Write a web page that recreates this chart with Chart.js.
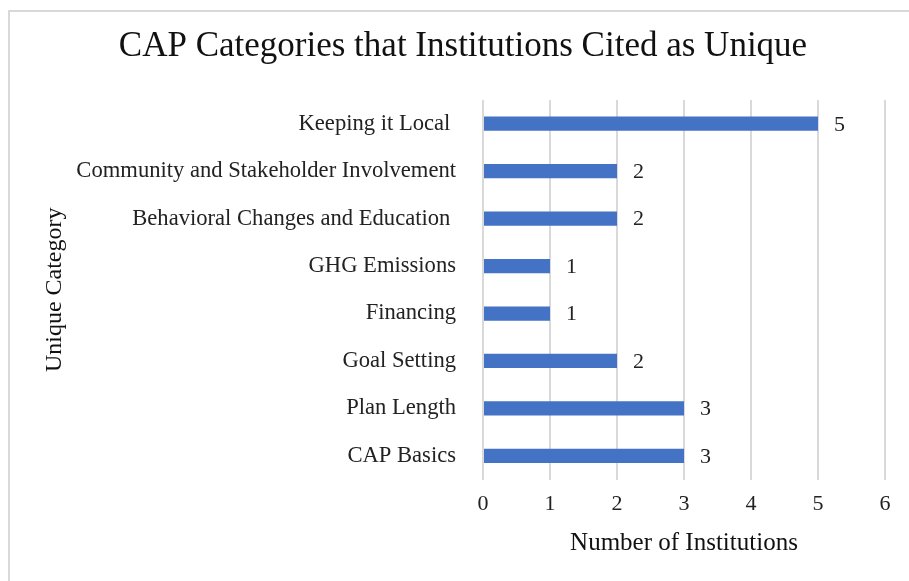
<!DOCTYPE html>
<html>
<head>
<meta charset="utf-8">
<script src="https://cdn.jsdelivr.net/npm/chart.js@4"></script>
<style>
  html, body { margin: 0; padding: 0; background: #ffffff; }
  #frame { position: absolute; left: 8px; top: 10px; width: 1000px; height: 1000px; border: 2px solid #d9d9d9; box-sizing: border-box; }
  #c { position: absolute; left: 0; top: 0; }
</style>
</head>
<body>
<div id="frame"></div>
<canvas id="c" width="909" height="581"></canvas>
<script>
const categories = [
  "Keeping it Local ",
  "Community and Stakeholder Involvement",
  "Behavioral Changes and Education ",
  "GHG Emissions",
  "Financing",
  "Goal Setting",
  "Plan Length",
  "CAP Basics"
];
const institutions = [5, 2, 2, 1, 1, 2, 3, 3];
const xTicks = [0, 1, 2, 3, 4, 5, 6];

const SERIF = "'Liberation Serif', 'Times New Roman', serif";

const valueLabels = {
  id: 'valueLabels',
  afterLayout(chart) {
    // centre the title over the whole frame rather than the padded area
    if (chart.titleBlock) { chart.titleBlock.left += 25; }
  },
  afterDatasetsDraw(chart) {
    const ctx = chart.ctx;
    ctx.save();
    ctx.font = "22px " + SERIF;
    ctx.fillStyle = '#222222';
    ctx.textAlign = 'left';
    ctx.textBaseline = 'middle';
    const meta = chart.getDatasetMeta(0);
    meta.data.forEach((bar, i) => {
      ctx.fillText(String(chart.data.datasets[0].data[i]), bar.x + 16, bar.y + 1);
    });
    ctx.restore();
  }
};

new Chart(document.getElementById('c'), {
  type: 'bar',
  data: {
    labels: categories,
    datasets: [{
      data: institutions,
      backgroundColor: '#4472c4',
      borderWidth: 0,
      barPercentage: 0.3,
      categoryPercentage: 1.0
    }]
  },
  plugins: [valueLabels],
  options: {
    indexAxis: 'y',
    responsive: false,
    animation: false,
    devicePixelRatio: 1,
    layout: { padding: { left: 16, right: 24, top: 0, bottom: 23 } },
    plugins: {
      legend: { display: false },
      tooltip: { enabled: false },
      title: {
        display: true,
        text: 'CAP Categories that Institutions Cited as Unique',
        color: '#111111',
        font: { family: SERIF, size: 35, weight: 'normal' },
        padding: { top: 26, bottom: 32 }
      }
    },
    scales: {
      x: {
        min: 0,
        max: 6,
        afterBuildTicks(scale) { scale.ticks = xTicks.map(v => ({ value: v })); },
        grid: { color: '#d9d9d9', lineWidth: 2, drawTicks: false },
        border: { display: false },
        ticks: { color: '#222222', padding: 11, font: { family: SERIF, size: 22 } },
        title: {
          display: true,
          text: 'Number of Institutions',
          color: '#111111',
          font: { family: SERIF, size: 25 },
          padding: { top: 0, bottom: 0 }
        }
      },
      y: {
        grid: { display: false },
        border: { display: false },
        afterFit(scale) { scale.width = 483 - 16; },
        ticks: { color: '#222222', padding: 19, font: { family: SERIF, size: 22.6 } },
        title: {
          display: true,
          text: 'Unique Category',
          color: '#111111',
          font: { family: SERIF, size: 24 },
          padding: { top: 24, bottom: 0 }
        }
      }
    }
  }
});
</script>
</body>
</html>
